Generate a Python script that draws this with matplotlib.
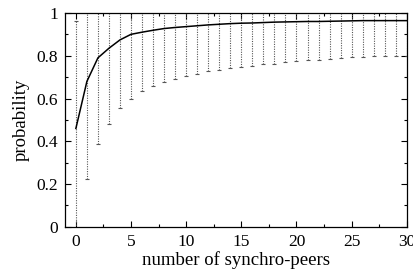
import numpy as np
import matplotlib
matplotlib.use("Agg")
import matplotlib.pyplot as plt
from matplotlib.ticker import MultipleLocator

plt.rcParams['font.family'] = ['Liberation Serif', 'DejaVu Serif']

# --- data ---
peers = list(range(0, 31))
mean_prob = [0.46, 0.68, 0.79, 0.835, 0.874, 0.900, 0.910, 0.919, 0.927, 0.932,
             0.936, 0.940, 0.944, 0.947, 0.950, 0.952, 0.953, 0.955, 0.957, 0.958,
             0.959, 0.960, 0.960, 0.961, 0.962, 0.963, 0.964, 0.964, 0.964, 0.964,
             0.964]
lower_prob = [-0.04, 0.222, 0.386, 0.481, 0.555, 0.598, 0.634, 0.657, 0.678, 0.690,
              0.704, 0.715, 0.727, 0.735, 0.744, 0.748, 0.754, 0.762, 0.763, 0.770,
              0.776, 0.779, 0.779, 0.786, 0.790, 0.793, 0.794, 0.799, 0.799, 0.799,
              0.800]

x = np.array(peers)
m = np.array(mean_prob)
err = m - np.array(lower_prob)

fig = plt.figure(figsize=(4.13, 2.75), dpi=100)
ax = fig.add_axes([0.157, 0.175, 0.828, 0.778])

eb = ax.errorbar(x, m, yerr=err, fmt='none', ecolor='#555555', elinewidth=0.8,
                 capsize=1.6, capthick=0.8)
for c in eb[2]:
    c.set_linestyle((0, (1, 1.2)))
ax.plot(x, m, color='black', lw=1.1)

ax.set_xlim(-1, 30)
ax.set_ylim(0, 1)
ax.xaxis.set_major_locator(MultipleLocator(5))
ax.xaxis.set_minor_locator(MultipleLocator(2.5))
ax.yaxis.set_minor_locator(MultipleLocator(0.1))
ax.set_yticks([0, 0.2, 0.4, 0.6, 0.8, 1])
ax.set_yticklabels(['0', '0.2', '0.4', '0.6', '0.8', '1'])
ax.tick_params(which='both', direction='in', top=True, right=True, labelsize=12.5)
ax.tick_params(axis='x', pad=5)
ax.tick_params(axis='y', pad=5)
ax.tick_params(which='major', length=4, width=0.8)
ax.tick_params(which='minor', length=2.5, width=0.8)
for s in ax.spines.values():
    s.set_linewidth(0.9)

ax.set_xlabel('number of synchro-peers', fontsize=13.5, labelpad=1)
ax.set_ylabel('probability', fontsize=13.5, labelpad=5)

fig.savefig('out.png', dpi=100)
